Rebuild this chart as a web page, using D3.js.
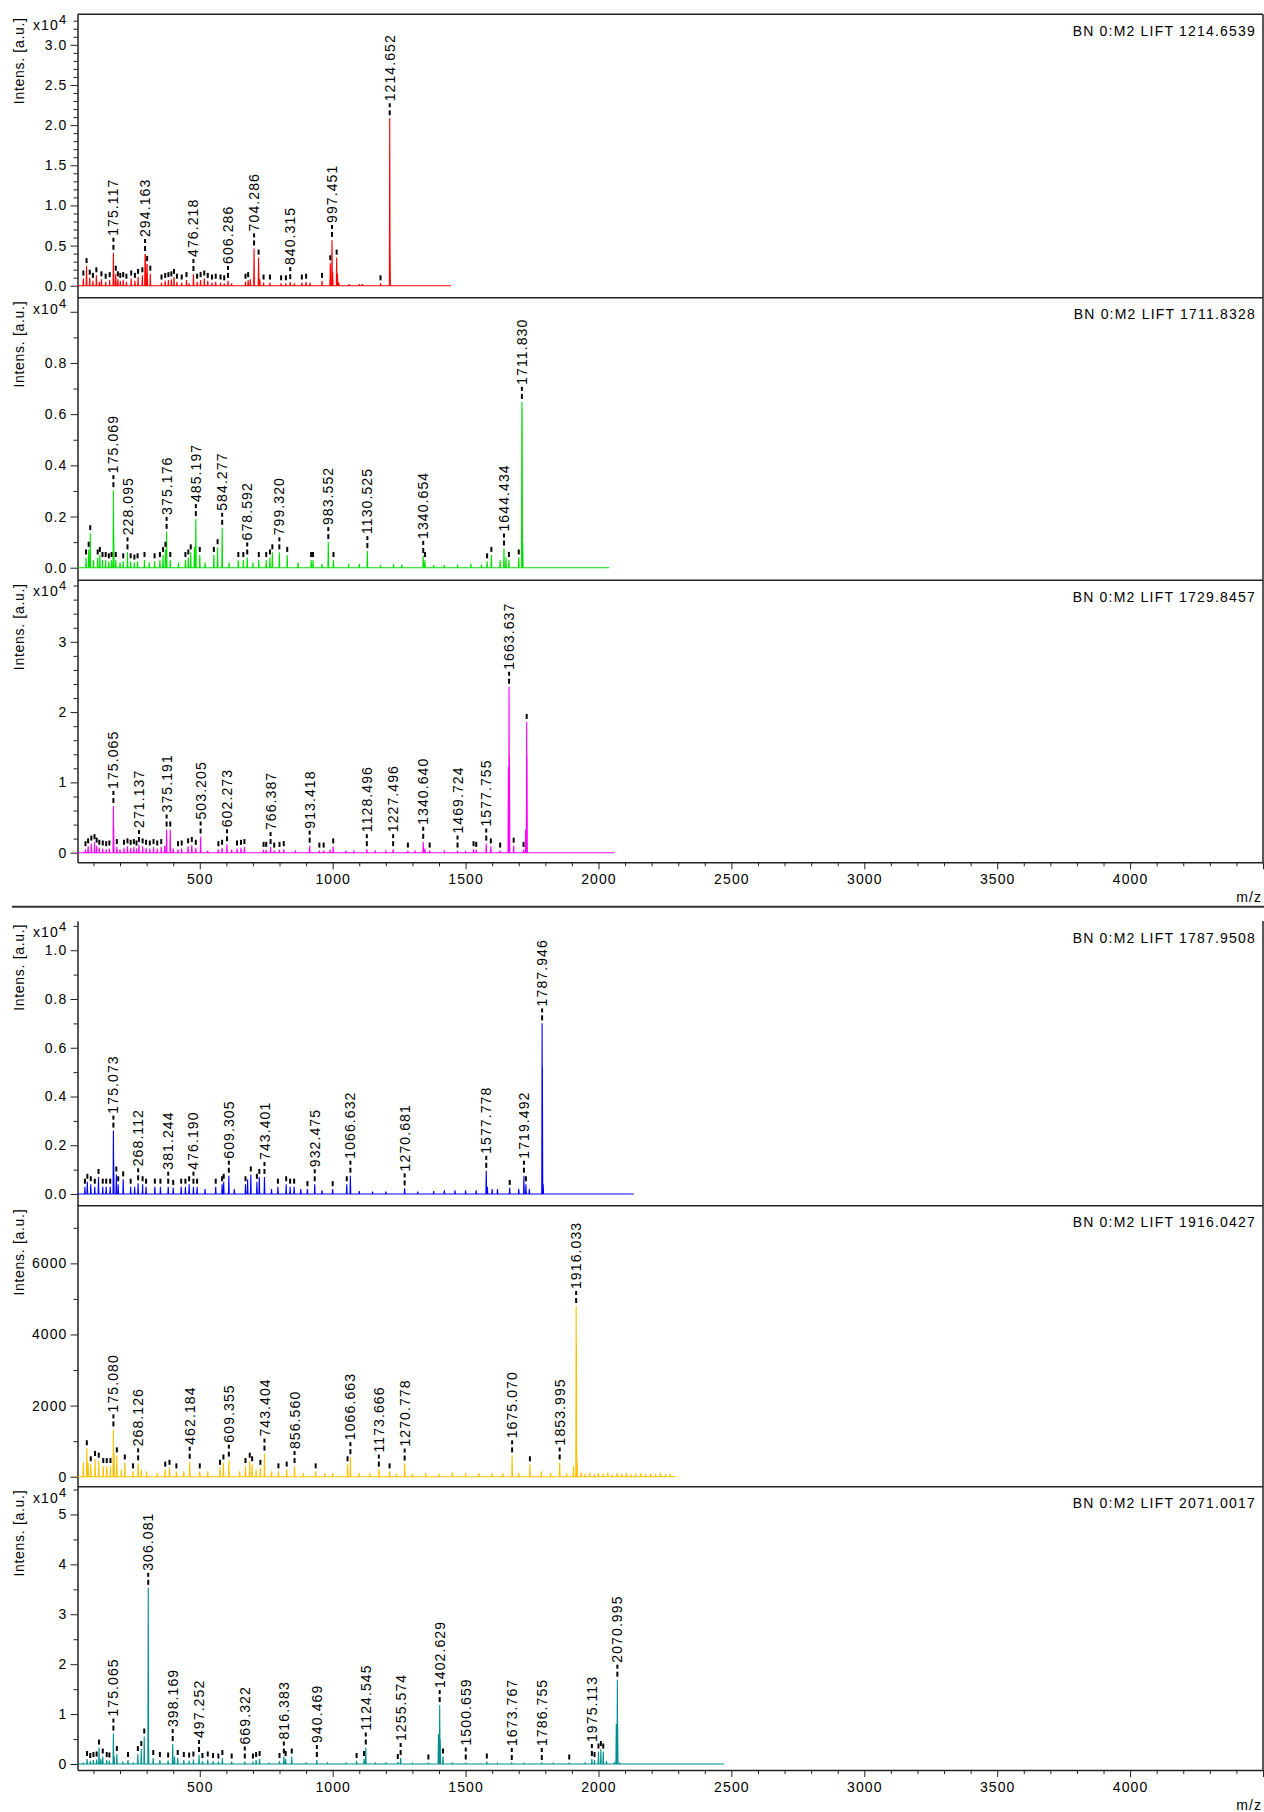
<!DOCTYPE html>
<html>
<head>
<meta charset="utf-8">
<script src="https://cdn.jsdelivr.net/npm/d3@7"></script>
<style>
  body { margin: 0; background: #fff; }
  svg { display: block; }
  text { font-family: "Liberation Sans", Arial, sans-serif; font-size: 14px; fill: #000; letter-spacing: 1.1px; }
  .ylab { letter-spacing: 0.7px; }
</style>
</head>
<body>
<svg id="chart" width="1264" height="1812"></svg>
<script>
// ---- spectra: [m/z, intensity (a.u.), kind]  kind: "L" labelled peak, "p" picked peak, "" unpicked
const peaksRed = [
  [62, 900, "p"], [74, 2450, "p"], [86, 1000, "p"], [98, 600, "p"], [111, 1300, "p"], [122, 500, ""],
  [130, 800, "p"], [146, 500, "p"], [161, 700, "p"], [175.117, 4100, "L"], [176.1, 1600, ""],
  [184, 1500, "p"], [192, 800, "p"], [201, 600, "p"], [212, 700, "p"], [224, 500, "p"], [242, 900, "p"],
  [256, 600, "p"], [268, 1100, "p"], [284, 1300, "p"], [294.163, 3950, "L"], [296, 3900, ""],
  [302, 2700, "p"], [314, 1500, "p"], [356, 400, "p"], [370, 600, "p"], [382, 700, "p"], [393, 800, "p"],
  [403, 1100, "p"], [414, 500, "p"], [432, 400, "p"], [450, 700, "p"], [460, 300, ""], [476.218, 1460, "L"],
  [490, 500, "p"], [503, 700, "p"], [517, 900, "p"], [530, 600, "p"], [546, 400, "p"], [560, 500, "p"],
  [578, 400, "p"], [592, 300, "p"], [606.286, 600, "L"], [620, 300, ""], [672, 500, "p"], [682, 700, "p"],
  [690, 800, ""], [704.286, 4650, "L"], [721.3, 3500, "p"], [726, 800, ""], [740, 400, "p"], [764, 400, "p"],
  [806, 300, "p"], [824, 300, "p"], [840.315, 450, "L"], [856, 300, ""], [884, 400, "p"], [900, 500, "p"],
  [915, 400, ""], [960, 600, "p"], [991, 2800, "p"], [997.451, 5700, "L"], [1000, 1700, ""],
  [1015, 3500, "p"], [1018, 1500, ""], [1023, 400, ""], [1062, 200, ""], [1100, 200, ""], [1112, 200, ""],
  [1180, 300, "p"], [1214.652, 20850, "L"], [1215.65, 5500, ""]
];
const peaksGreen = [
  [72, 400, "p"], [82, 700, "p"], [88, 1350, "p"], [100, 300, ""], [116, 400, "p"], [124, 500, "p"],
  [134, 300, "p"], [146, 300, "p"], [158, 250, "p"], [168, 300, "p"], [175.069, 3030, "L"], [176.1, 1600, ""],
  [184, 300, "p"], [200, 200, ""], [212, 250, "p"], [228.095, 600, "L"], [240, 250, "p"], [254, 200, "p"],
  [266, 250, "p"], [292, 300, "p"], [310, 200, ""], [330, 250, "p"], [350, 300, "p"], [362, 500, "p"],
  [371, 700, "p"], [375.176, 1400, "L"], [389, 300, "p"], [420, 200, ""], [446, 300, "p"], [457, 400, "p"],
  [466, 600, "p"], [480, 800, ""], [485.197, 1900, "L"], [500, 500, "p"], [520, 200, ""], [553, 500, "p"],
  [567, 800, "p"], [584.277, 1560, "L"], [610, 200, ""], [645, 300, "p"], [664, 300, "p"], [678.592, 400, "L"],
  [700, 200, ""], [722, 300, "p"], [750, 300, "p"], [764, 400, "p"], [773, 600, "p"], [799.320, 600, "L"],
  [829, 500, "p"], [870, 200, ""], [919, 300, "p"], [926, 300, "p"], [960, 150, ""], [983.552, 1000, "L"],
  [1003, 300, "p"], [1060, 150, ""], [1100, 150, ""], [1130.525, 650, "L"], [1180, 100, ""], [1229, 150, ""],
  [1260, 120, ""], [1340.654, 460, "L"], [1347, 300, "p"], [1380, 100, ""], [1420, 100, ""], [1470, 120, ""],
  [1520, 150, ""], [1560, 120, ""], [1581, 250, "p"], [1597, 500, "p"], [1630, 300, ""], [1644.434, 750, "L"],
  [1652, 400, ""], [1663, 300, "p"], [1700, 400, "p"], [1711.830, 6480, "L"], [1712.83, 6200, ""], [1715, 1000, ""]
];
const peaksMagenta = [
  [70, 500, "p"], [80, 900, "p"], [92, 1300, "p"], [104, 1500, "p"], [112, 1000, "p"], [122, 700, "p"],
  [135, 600, "p"], [148, 500, "p"], [160, 600, "p"], [175.065, 6650, "L"], [176.1, 3500, ""], [188, 800, "p"],
  [200, 500, ""], [215, 700, "p"], [228, 900, "p"], [240, 700, "p"], [252, 800, "p"], [262, 600, "p"],
  [271.137, 1100, "L"], [285, 900, "p"], [298, 700, "p"], [312, 600, "p"], [326, 800, "p"], [340, 600, "p"],
  [355, 800, "p"], [368, 1000, ""], [375.191, 3300, "L"], [389, 3300, "p"], [400, 600, ""], [418, 500, "p"],
  [432, 600, "p"], [456, 900, "p"], [470, 1100, "p"], [485, 700, "p"], [503.205, 2300, "L"], [530, 300, ""],
  [570, 500, "p"], [584, 700, "p"], [602.273, 1200, "L"], [620, 400, ""], [640, 600, "p"], [655, 700, "p"],
  [668, 800, "p"], [740, 400, "p"], [750, 400, "p"], [766.387, 800, "L"], [780, 300, "p"], [800, 400, "p"],
  [816, 500, "p"], [860, 200, ""], [913.418, 1000, "L"], [950, 300, "p"], [966, 300, "p"], [990, 400, ""],
  [1002, 900, "p"], [1050, 300, ""], [1080, 200, ""], [1128.496, 500, "L"], [1160, 200, ""], [1200, 200, ""],
  [1227.496, 500, "L"], [1283, 300, "p"], [1310, 200, ""], [1340.640, 1550, "L"], [1347, 600, ""],
  [1365, 300, "p"], [1420, 200, ""], [1469.724, 300, "L"], [1500, 150, ""], [1530, 500, "p"], [1540, 400, "p"],
  [1577.755, 1300, "L"], [1595, 900, "p"], [1630, 300, "p"], [1661, 12200, ""], [1663.637, 23600, "L"],
  [1665, 13700, ""], [1681, 1000, "p"], [1718, 400, "p"], [1726, 3300, ""], [1729.846, 18600, "p"],
  [1731, 13700, ""]
];
const peaksBlue = [
  [68, 300, "p"], [77, 500, "p"], [90, 400, "p"], [105, 300, "p"], [119, 700, "p"], [135, 300, "p"],
  [148, 300, "p"], [163, 300, "p"], [175.073, 2600, "L"], [176.1, 1380, ""], [186, 800, "p"], [193, 400, "p"],
  [212, 600, "p"], [240, 300, "p"], [255, 300, ""], [268.112, 440, "L"], [285, 400, "p"], [298, 300, "p"],
  [331, 300, "p"], [352, 300, "p"], [381.244, 300, "L"], [400, 250, "p"], [430, 300, "p"], [446, 300, "p"],
  [460, 400, "p"], [476.190, 300, "L"], [490, 300, "p"], [520, 200, ""], [560, 300, "p"], [584, 400, "p"],
  [590, 500, "p"], [609.305, 750, "L"], [630, 200, ""], [672, 400, "p"], [680, 600, ""], [692, 800, "p"],
  [715, 500, "p"], [724, 700, "p"], [743.401, 700, "L"], [770, 200, ""], [794, 300, "p"], [825, 400, "p"],
  [840, 300, "p"], [855, 300, "p"], [880, 200, ""], [905, 200, "p"], [932.475, 400, "L"], [960, 150, ""],
  [1000, 200, "p"], [1053, 400, "p"], [1066.632, 750, "L"], [1100, 120, ""], [1150, 100, ""], [1200, 100, ""],
  [1270.681, 230, "L"], [1320, 100, ""], [1380, 120, ""], [1420, 150, ""], [1460, 150, ""], [1500, 150, ""],
  [1540, 150, ""], [1577.778, 950, "L"], [1582, 300, ""], [1600, 200, ""], [1620, 200, ""], [1666, 250, "p"],
  [1700, 200, ""], [1719.492, 750, "L"], [1727, 400, "p"], [1740, 200, ""], [1787.946, 7000, "L"],
  [1788.95, 5200, ""], [1792, 400, ""]
];
const peaksYellow = [
  [62, 400, ""], [75, 800, "p"], [80, 400, ""], [90, 350, "p"], [106, 500, "p"], [120, 450, "p"],
  [137, 300, "p"], [150, 300, "p"], [164, 300, "p"], [175.080, 1330, "L"], [178, 650, ""], [188, 600, "p"],
  [205, 200, ""], [218, 400, "p"], [249, 150, "p"], [268.126, 375, "L"], [280, 200, ""], [300, 150, ""],
  [340, 100, ""], [370, 200, "p"], [386, 250, "p"], [412, 150, "p"], [440, 150, ""], [462.184, 420, "L"],
  [500, 150, "p"], [530, 150, ""], [576, 250, "p"], [589, 400, "p"], [609.355, 480, "L"], [650, 150, ""],
  [672, 300, "p"], [688, 450, "p"], [697, 350, "p"], [712, 200, ""], [728, 250, "p"], [743.404, 650, "L"],
  [770, 150, ""], [796, 150, "p"], [827, 200, "p"], [856.560, 300, "L"], [890, 100, ""], [936, 150, "p"],
  [970, 100, ""], [1000, 100, ""], [1056, 350, "p"], [1066.663, 550, "L"], [1100, 100, ""], [1140, 100, ""],
  [1173.666, 200, "L"], [1214, 150, "p"], [1240, 80, ""], [1270.778, 370, "L"], [1300, 80, ""], [1350, 100, ""],
  [1400, 80, ""], [1450, 120, ""], [1500, 100, ""], [1550, 100, ""], [1600, 100, ""], [1640, 100, ""],
  [1675.070, 600, "L"], [1700, 100, ""], [1742, 350, "p"], [1785, 150, ""], [1820, 100, ""],
  [1853.995, 400, "L"], [1880, 100, ""], [1906, 300, ""], [1916.033, 4800, "L"], [1917.03, 3800, ""],
  [1920, 400, ""], [1935, 120, ""], [1950, 80, ""], [1968, 110, ""], [1985, 70, ""], [2000, 100, ""],
  [2018, 90, ""], [2035, 120, ""], [2052, 70, ""], [2070, 100, ""], [2088, 80, ""], [2105, 110, ""],
  [2122, 70, ""], [2140, 90, ""], [2160, 100, ""], [2178, 70, ""], [2196, 90, ""], [2215, 80, ""],
  [2233, 100, ""], [2252, 70, ""], [2270, 90, ""]
];
const peaksTeal = [
  [62, 300, ""], [76, 1000, "p"], [88, 600, "p"], [100, 800, "p"], [112, 900, "p"], [121, 3300, "p"],
  [128, 1000, ""], [135, 1500, "p"], [150, 800, "p"], [160, 700, "p"], [175.065, 6100, "L"], [178, 1500, ""],
  [188, 2000, "p"], [210, 500, ""], [230, 800, "p"], [250, 300, ""], [267, 2000, "p"], [280, 3000, "p"],
  [291, 5500, "p"], [306.081, 35300, "L"], [307.08, 5000, ""], [325, 1200, "p"], [350, 800, "p"],
  [381, 700, "p"], [398.169, 4000, "L"], [405, 1500, ""], [417, 1200, "p"], [440, 800, "p"], [460, 700, "p"],
  [476, 900, "p"], [497.252, 1800, "L"], [510, 600, "p"], [530, 900, "p"], [550, 600, "p"], [570, 500, "p"],
  [585, 1200, "p"], [620, 500, "p"], [669.322, 500, "L"], [700, 500, "p"], [712, 800, "p"], [725, 1000, "p"],
  [760, 300, ""], [800, 600, "p"], [816.383, 1500, "L"], [823, 1000, "p"], [846, 1500, "p"], [900, 200, ""],
  [940.469, 800, "L"], [980, 200, ""], [1050, 200, ""], [1090, 600, "p"], [1118, 1000, "p"],
  [1124.545, 3300, "L"], [1160, 200, ""], [1200, 200, ""], [1245, 400, "p"], [1255.574, 1200, "L"],
  [1300, 150, ""], [1360, 300, "p"], [1398, 6000, ""], [1402.629, 11800, "L"], [1404.6, 5000, ""],
  [1415, 1500, "p"], [1450, 200, ""], [1500.659, 300, "L"], [1580, 500, "p"], [1620, 150, ""],
  [1673.767, 200, "L"], [1720, 150, ""], [1786.755, 200, "L"], [1830, 150, ""], [1890, 300, "p"],
  [1950, 200, ""], [1975.113, 1000, "L"], [1985, 800, "p"], [2000, 2500, "p"], [2009, 3000, "p"],
  [2018, 2500, "p"], [2030, 600, ""], [2060, 400, ""], [2067, 8000, ""], [2070.995, 16900, "L"],
  [2072, 8100, ""], [2080, 300, ""]
];

const titles = [
  "BN 0:M2 LIFT 1214.6539", "BN 0:M2 LIFT 1711.8328", "BN 0:M2 LIFT 1729.8457",
  "BN 0:M2 LIFT 1787.9508", "BN 0:M2 LIFT 1916.0427", "BN 0:M2 LIFT 2071.0017"
];
const spectra = [peaksRed, peaksGreen, peaksMagenta, peaksBlue, peaksYellow, peaksTeal];
const lastMz = [1445, 2040, 2060, 2133, 2290, 2472];          // end of each acquired range
const colors = ["#ff0000", "#00e000", "#ff00ff", "#0000ff", "#ffc000", "#00908f"];
// intensity axes: [min, max] in a.u., major step, minor step, scaled by 10^4 or not
const yDomains = [[-1490, 33800], [-492, 10550], [-1366, 38750], [-480, 11200], [-281, 7621], [-1200, 55560]];
const yMajor = [5000, 2000, 10000, 2000, 2000, 10000];
const yMinor = [1000, 1000, 2000, 1000, 1000, 5000];
const yExp = [true, true, true, true, false, true];
const yDecimals = [1, 1, 0, 1, 0, 0];
const mzMajorTicks = [500, 1000, 1500, 2000, 2500, 3000, 3500, 4000];

// ---- layout (pixels)
const X0 = 77.5, X1 = 1263;
const panelBox = [[14.3, 297.7], [297.7, 580.3], [580.3, 862.3], [921, 1205.7], [1205.7, 1486.7], [1486.7, 1770]];
const groups = [{ panels: [0, 1, 2], frameTop: true }, { panels: [3, 4, 5], frameTop: false }];

const svg = d3.select("#chart");
const x = d3.scaleLinear().domain([40, 4500]).range([X0, X1]);

function profile(peaks, end) {
  const pts = [[40, 0]];
  peaks.forEach(([m, v]) => { pts.push([m - 1.4, 0], [m, v], [m + 1.4, 0]); });
  pts.push([end, 0]);
  return pts;
}

spectra.forEach((peaks, i) => {
  const [top, bottom] = panelBox[i];
  const y = d3.scaleLinear().domain(yDomains[i]).range([bottom, top]);
  const g = svg.append("g");

  // y axis: minor then major ticks
  const minorVals = d3.range(0, yDomains[i][1] + 1, yMinor[i]).filter(v => v % yMajor[i] !== 0);
  const majorVals = d3.range(0, yDomains[i][1] + 1, yMajor[i]);
  g.append("g").attr("transform", `translate(${X0},0)`).style("color", "#222")
    .call(d3.axisLeft(y).tickValues(minorVals).tickSize(4).tickSizeOuter(0).tickFormat(""))
    .call(a => a.select(".domain").attr("stroke-width", 1.5));
  const fmt = v => yExp[i] ? (v / 1e4).toFixed(yDecimals[i]) : d3.format("d")(v);
  g.append("g").attr("transform", `translate(${X0},0)`).style("color", "#222")
    .call(d3.axisLeft(y).tickValues(majorVals).tickSize(7).tickPadding(3).tickSizeOuter(0)
      .tickFormat(v => (yExp[i] && y(v) - top < 22) ? "" : fmt(v)))
    .call(a => a.select(".domain").remove())
    .call(a => a.selectAll("text").attr("font-size", null).attr("font-family", null));

  // axis title and exponent
  g.append("text").attr("class", "ylab")
    .attr("transform", `translate(19,${top + 3}) rotate(-90)`)
    .attr("text-anchor", "end").attr("dy", "0.35em").text("Intens. [a.u.]");
  if (yExp[i]) {
    const e = g.append("text").attr("x", 33).attr("y", top + 16);
    e.append("tspan").text("x10");
    e.append("tspan").attr("dy", -6).style("font-size", "13px").text("4");
  }
  // spectrum title
  g.append("text").attr("x", 1256).attr("y", top + 21.5).attr("text-anchor", "end")
    .style("letter-spacing", "1.2px").text(titles[i]);

  // spectrum trace
  g.append("path").datum(profile(peaks, lastMz[i]))
    .attr("fill", "none").attr("stroke", colors[i]).attr("stroke-width", 1.1)
    .attr("d", d3.line().x(d => x(d[0])).y(d => y(d[1])));

  // peak marks
  const picked = peaks.filter(p => p[2] !== "");
  g.selectAll("line.mark").data(picked).join("line")
    .attr("x1", d => x(d[0])).attr("x2", d => x(d[0]))
    .attr("y1", d => y(d[1]) - 3).attr("y2", d => y(d[1]) - 8)
    .attr("stroke", "#000").attr("stroke-width", 2);
  const labelled = peaks.filter(p => p[2] === "L");
  g.selectAll("line.lead").data(labelled).join("line")
    .attr("x1", d => x(d[0])).attr("x2", d => x(d[0]))
    .attr("y1", d => y(d[1]) - 11).attr("y2", d => y(d[1]) - 15)
    .attr("stroke", "#000").attr("stroke-width", 2);
  g.selectAll("text.peak").data(labelled).join("text")
    .attr("transform", d => `translate(${x(d[0])},${y(d[1]) - 17}) rotate(-90)`)
    .attr("dy", "0.36em").text(d => d[0].toFixed(3));
});

// frames, panel separators and m/z axes
groups.forEach(gr => {
  const top = panelBox[gr.panels[0]][0];
  const axisY = panelBox[gr.panels[2]][1];
  if (gr.frameTop) svg.append("line").attr("x1", X0).attr("x2", X1).attr("y1", top).attr("y2", top)
    .attr("stroke", "#222").attr("stroke-width", 1.5);
  svg.append("line").attr("x1", X1).attr("x2", X1).attr("y1", top).attr("y2", axisY)
    .attr("stroke", "#222").attr("stroke-width", 1.5);
  gr.panels.slice(1).forEach(p => {
    const yy = panelBox[p][0];
    svg.append("line").attr("x1", X0).attr("x2", X1).attr("y1", yy).attr("y2", yy)
      .attr("stroke", "#222").attr("stroke-width", 1.5);
  });
  const minorMz = d3.range(100, 4501, 100).filter(v => v % 500 !== 0);
  svg.append("g").attr("transform", `translate(0,${axisY})`).style("color", "#222")
    .call(d3.axisBottom(x).tickValues(minorMz).tickSize(4).tickSizeOuter(0).tickFormat(""))
    .call(a => a.select(".domain").attr("stroke-width", 1.5));
  svg.append("g").attr("transform", `translate(0,${axisY})`).style("color", "#222")
    .call(d3.axisBottom(x).tickValues(mzMajorTicks.concat([4500])).tickSize(7).tickPadding(5).tickSizeOuter(0)
      .tickFormat(v => v === 4500 ? "" : d3.format("d")(v)))
    .call(a => a.select(".domain").remove())
    .call(a => a.selectAll("text").attr("font-size", null).attr("font-family", null));
  svg.append("text").attr("x", 1262).attr("y", axisY + 40).attr("text-anchor", "end").text("m/z");
});

// separator between the two stacks
svg.append("line").attr("x1", 12).attr("x2", 1264).attr("y1", 906.7).attr("y2", 906.7)
  .attr("stroke", "#333").attr("stroke-width", 2);
</script>
</body>
</html>
